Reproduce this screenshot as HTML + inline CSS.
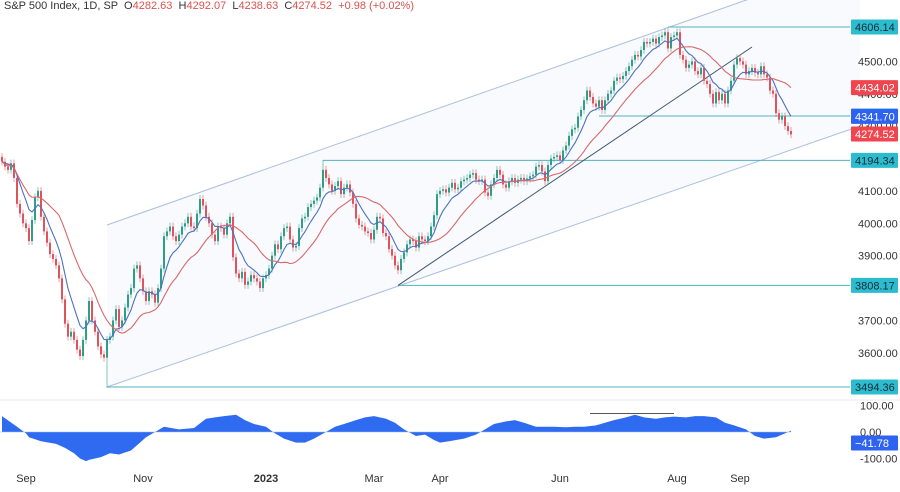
<!DOCTYPE html>
<html><head><meta charset="utf-8"><style>
body{margin:0;background:#fff;width:900px;height:487px;overflow:hidden;font-family:"Liberation Sans",sans-serif}
svg text{font-family:"Liberation Sans",sans-serif}
</style></head><body>
<svg id="c" width="900" height="487"></svg>
<script>
const closes=[4190,4175,4165,4185,4140,4060,4030,4000,3985,3945,4010,4080,4100,4020,3975,3940,3905,3890,3870,3830,
3765,3690,3650,3665,3640,3610,3590,3640,3700,3760,3700,3665,3620,3595,3585,3640,3650,3700,3735,3680,
3700,3740,3780,3800,3860,3870,3830,3790,3760,3790,3780,3755,3800,3860,3960,3975,3990,3960,3945,3965,
3990,4000,4020,3990,3985,4030,4075,4055,4020,4000,3965,3945,3990,3985,3965,4000,4020,3895,3845,3830,
3850,3810,3820,3840,3830,3820,3800,3830,3840,3860,3900,3935,3920,3960,3985,3990,3950,3925,3930,3985,
4015,4020,4050,4060,4070,4080,4110,4165,4140,4120,4100,4115,4130,4090,4110,4120,4095,4060,4015,3995,
3990,3975,3970,3950,3980,4020,4015,3970,3960,3920,3900,3870,3855,3890,3910,3935,3950,3945,3925,3960,
3950,3945,3960,3990,4025,4090,4100,4105,4095,4110,4125,4105,4110,4130,4135,4140,4150,4155,4135,4130,
4135,4095,4085,4120,4140,4165,4150,4120,4110,4130,4140,4125,4135,4140,4130,4138,4145,4150,4175,4180,
4160,4130,4180,4200,4205,4210,4195,4225,4240,4270,4290,4295,4330,4350,4380,4410,4390,4370,4360,4380,
4350,4380,4400,4410,4440,4450,4445,4455,4470,4485,4505,4520,4515,4535,4560,4555,4560,4570,4555,4575,
4580,4590,4540,4575,4580,4590,4520,4505,4480,4490,4500,4470,4460,4480,4440,4430,4400,4370,4405,4380,
4400,4370,4410,4440,4490,4510,4500,4490,4460,4470,4480,4465,4460,4485,4460,4450,4410,4400,4340,4320,
4330,4300,4285,4274.52];
const firstOpen=4205;
const oscBars=[0,5,8,9,13,18,21,24,26,28,29,33,36,39,43,46,48,51,54,59,64,68,71,74,78,81,84,88,91,94,98,101,104,108,111,114,118,121,124,128,131,134,138,141,144,146,149,154,158,161,164,168,171,174,178,181,184,188,191,194,198,201,204,208,211,214,218,221,224,228,231,234,238,241,244,248,251,254,258,261,263];
const oscVals=[60,20,-5,-20,-35,-45,-60,-80,-100,-110,-105,-95,-80,-85,-70,-40,-20,0,20,10,15,50,55,60,65,45,30,20,-5,-25,-40,-40,-25,0,20,30,45,55,60,50,35,10,-15,-10,-30,-40,-35,-25,-10,10,30,40,45,35,20,20,20,18,20,20,25,35,45,55,65,55,50,55,58,55,60,60,55,35,25,10,-15,-25,-20,-5,5,3,0,-20,-41.78];
const priceTicks=[4500,4400,4300,4100,4000,3900,3700,3600];
const levels=[4606.14,4331.18,4194.34,3808.17,3494.36];
const levelStart=[222,199,107,132,35];
const dateLabels=["Sep","Nov","2023","Mar","Apr","Jun","Aug","Sep"];
const dateBars=[8,47,88,124,146,186,225,246];

const svg=document.getElementById('c');const NS='http://www.w3.org/2000/svg';
function py(p){return 27+(4606.14-p)/3.088;}
function bx(i){return 2+3*i;}
function oy(v){return 432-v*0.265;}
function el(t,a,parent){const e=document.createElementNS(NS,t);for(const k in a)e.setAttribute(k,a[k]);(parent||svg).appendChild(e);return e;}
const ch=el('polygon',{points:`107,${py(3494.36)} 107,225 860,-40 860,126`,fill:'#f8fafd',stroke:'none'});


const cu=el('line',{x1:107,y1:225,x2:860,y2:-40,stroke:'#a9bfdc','stroke-width':1});


const cl=el('line',{x1:107,y1:py(3494.36),x2:860,y2:126,stroke:'#a9bfdc','stroke-width':1});


levels.forEach((lv,k)=>{const l=el('line',{x1:bx(levelStart[k]),y1:py(lv),x2:850,y2:py(lv),stroke:'#4fb3c0','stroke-width':1});

});
const tl=el('line',{x1:bx(132),y1:py(3808.17),x2:752,y2:47,stroke:'#3d5573','stroke-width':1});


closes.forEach((c,i)=>{const o=i?closes[i-1]:firstOpen;const up=c>=o;const col=up?'#2f9e86':'#e0535d';
let hi=Math.max(o,c)+12,lo=Math.min(o,c)-12;if(i===35)lo=3491.58;if(i===107)hi=4195;
const g=el('g',{});


el('line',{x1:bx(i),x2:bx(i),y1:py(hi),y2:py(lo),stroke:col,'stroke-width':0.8,opacity:0.7},g);
const t=py(Math.max(o,c)),b=py(Math.min(o,c));
el('rect',{x:bx(i)-1,y:t,width:2,height:Math.max(1,b-t),fill:col},g);});
function ema(n){let r=[],e=closes[0];closes.forEach((c,i)=>{e=i?e+(c-e)*2/(n+1):c;r.push(e);});return r;}
function sma(n){return closes.map((c,i)=>{const s=closes.slice(Math.max(0,i-n+1),i+1);return s.reduce((a,b)=>a+b,0)/s.length;});}
const maFast=ema(8),maSlow=sma(20);
const mf=el('polyline',{points:maFast.map((v,i)=>bx(i)+','+py(v)).join(' '),fill:'none',stroke:'#4a72c0','stroke-width':1.1});


const ms=el('polyline',{points:maSlow.map((v,i)=>bx(i)+','+py(v)).join(' '),fill:'none',stroke:'#d9686c','stroke-width':1.1});


const sep=el('line',{x1:0,y1:400,x2:900,y2:400,stroke:'#e6e8ee','stroke-width':1});


let pts=`${bx(oscBars[0])},${oy(0)} `+oscBars.map((b,k)=>bx(b)+','+oy(oscVals[k])).join(' ')+` ${bx(oscBars[oscBars.length-1])},${oy(0)}`;
const os=el('polygon',{points:pts,fill:'#2f6bf0'});


const dv=el('line',{x1:bx(196),y1:oy(70),x2:bx(224),y2:oy(70),stroke:'#555','stroke-width':1});


const zl=el('line',{x1:0,y1:oy(0),x2:bx(263),y2:oy(0),stroke:'#9db5f5','stroke-width':0.6});


priceTicks.forEach(p=>{const t=el('text',{x:858,y:py(p)+4,'font-size':11,fill:'#333'});t.textContent=p.toFixed(2);

});
function box(val,y,bg,fg,name){const g=el('g',{});


el('rect',{x:851,y:y-7.5,width:47,height:15,fill:bg,rx:1},g);
const t=el('text',{x:855,y:y+4,'font-size':11,fill:fg},g);t.textContent=val;}
levels.forEach(lv=>box(lv.toFixed(2),py(lv),'#2bbccf','#1a2a33','level-price-label'));
box('4434.02',py(maSlow[maSlow.length-1]),'#f0454f','#fff','slow-ma-price-label');
box('4341.70',py(maFast[maFast.length-1])+0,'#2e62f0','#fff','fast-ma-price-label');
box('4274.52',134,'#f0454f','#fff','last-price-label');
[[100,'100.00'],[0,'0.00'],[-100,'-100.00']].forEach(([v,s])=>{const t=el('text',{x:860,y:oy(v)+4,'font-size':11,fill:'#333'});t.textContent=s;

});
box('\u221241.78',443,'#2e62f0','#fff','oscillator-value-label');
dateLabels.forEach((d,k)=>{const t=el('text',{x:bx(dateBars[k]),y:482,'font-size':11,fill:'#333','text-anchor':'middle','font-weight':d==='2023'?'bold':'normal'});t.textContent=d;

});
</script>
<div style="position:absolute;left:4px;top:0;font-size:11px;color:#333;white-space:nowrap">S&amp;P 500 Index, 1D, SP &nbsp;O<span style="color:#d9534f">4282.63</span> &nbsp;H<span style="color:#d9534f">4292.07</span> &nbsp;L<span style="color:#d9534f">4238.63</span> &nbsp;C<span style="color:#d9534f">4274.52</span> &nbsp;<span style="color:#d9534f">+0.98 (+0.02%)</span></div>
</body></html>
